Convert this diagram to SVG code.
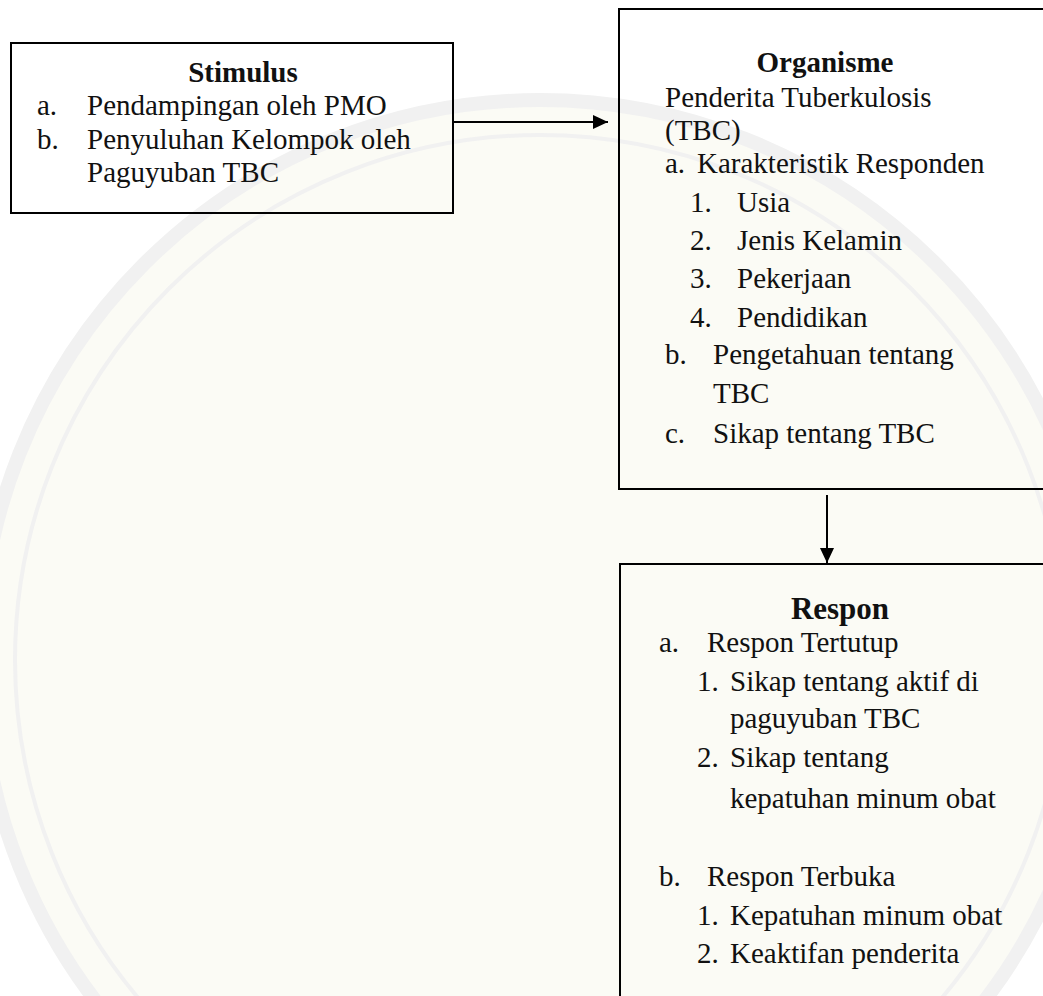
<svg xmlns="http://www.w3.org/2000/svg" width="1043" height="996" viewBox="0 0 1043 996">
  <defs>
    <style>
      .box { fill: none; stroke: #000; stroke-width: 2; }
      .t { font-family: "Liberation Serif", "Times New Roman", serif; font-size: 29px; fill: #111; }
      .h { font-family: "Liberation Serif", "Times New Roman", serif; font-size: 29px; font-weight: bold; fill: #111; text-anchor: middle; }
      .conn { stroke: #000; stroke-width: 2; fill: none; }
      .wm { fill: none; stroke: #f1f1f1; }
    </style>
    <marker id="arrow" markerUnits="userSpaceOnUse" markerWidth="16" markerHeight="16" refX="15" refY="7" orient="auto">
      <path d="M0,0 L15,7 L0,14 Z" fill="#000"/>
    </marker>
  </defs>

  <rect x="0" y="0" width="1043" height="996" fill="#ffffff"/>

  <!-- faint watermark -->
  <g id="watermark">
    <circle cx="540" cy="660" r="560" fill="#fbfbf5"/>
    <circle cx="540" cy="660" r="560" class="wm" stroke-width="14"/>
    <circle cx="540" cy="660" r="525" class="wm" stroke-width="4"/>
  </g>

  <g id="stimulus">
    <rect class="box" x="11" y="43" width="442" height="170"/>
    <text class="h" x="243" y="82">Stimulus</text>
    <text class="t" x="37" y="115">a.</text>
    <text class="t" x="87" y="115">Pendampingan oleh PMO</text>
    <text class="t" x="37" y="149">b.</text>
    <text class="t" x="87" y="149">Penyuluhan Kelompok oleh</text>
    <text class="t" x="87" y="182">Paguyuban TBC</text>
  </g>

  <g id="organisme">
    <rect class="box" x="619" y="9" width="440" height="480"/>
    <text class="h" x="825" y="72">Organisme</text>
    <text class="t" x="665" y="107">Penderita Tuberkulosis</text>
    <text class="t" x="665" y="140">(TBC)</text>
    <text class="t" x="665" y="173">a.</text>
    <text class="t" x="697" y="173">Karakteristik Responden</text>
    <text class="t" x="690" y="212">1.</text>
    <text class="t" x="737" y="212">Usia</text>
    <text class="t" x="690" y="250">2.</text>
    <text class="t" x="737" y="250">Jenis Kelamin</text>
    <text class="t" x="690" y="288">3.</text>
    <text class="t" x="737" y="288">Pekerjaan</text>
    <text class="t" x="690" y="327">4.</text>
    <text class="t" x="737" y="327">Pendidikan</text>
    <text class="t" x="665" y="364">b.</text>
    <text class="t" x="713" y="364">Pengetahuan tentang</text>
    <text class="t" x="713" y="403">TBC</text>
    <text class="t" x="665" y="443">c.</text>
    <text class="t" x="713" y="443">Sikap tentang TBC</text>
  </g>

  <g id="respon">
    <rect class="box" x="620" y="564" width="440" height="460"/>
    <text class="h" x="840" y="619" style="font-size:31px">Respon</text>
    <text class="t" x="659" y="652">a.</text>
    <text class="t" x="707" y="652">Respon Tertutup</text>
    <text class="t" x="697" y="691">1.</text>
    <text class="t" x="730" y="691">Sikap tentang aktif di</text>
    <text class="t" x="730" y="728">paguyuban TBC</text>
    <text class="t" x="697" y="767">2.</text>
    <text class="t" x="730" y="767">Sikap tentang</text>
    <text class="t" x="730" y="808">kepatuhan minum obat</text>
    <text class="t" x="659" y="886">b.</text>
    <text class="t" x="707" y="886">Respon Terbuka</text>
    <text class="t" x="697" y="925">1.</text>
    <text class="t" x="730" y="925">Kepatuhan minum obat</text>
    <text class="t" x="697" y="963">2.</text>
    <text class="t" x="730" y="963">Keaktifan penderita</text>
  </g>

  <g id="connectors">
    <line class="conn" x1="453" y1="122" x2="608" y2="122" marker-end="url(#arrow)"/>
    <line class="conn" x1="827" y1="495" x2="827" y2="563" marker-end="url(#arrow)"/>
  </g>
</svg>
